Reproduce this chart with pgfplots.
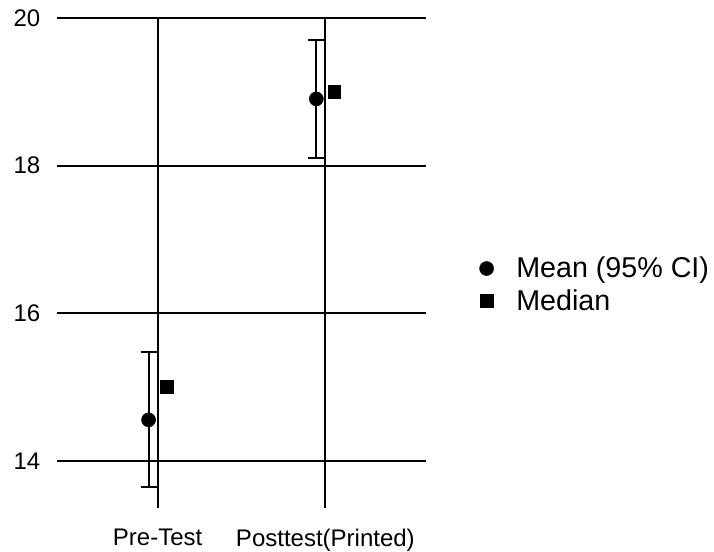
\documentclass[border=0pt]{standalone}
\usepackage{fontspec}
\setmainfont{Liberation Sans}
\usepackage{pgfplots}
\pgfplotsset{compat=1.18}
\begin{document}
\begin{tikzpicture}
\useasboundingbox (-42.75pt,-32.25pt) rectangle (492.75pt,381pt);
\begin{axis}[
  at={(0,0)}, anchor=south west,
  scale only axis, width=276.75pt, height=367.5pt,
  xmin=-0.6, xmax=1.6, ymin=13.36, ymax=20,
  xtick={0,1}, xticklabels={Pre-Test, Posttest(Printed)},
  ytick={14,16,18,20},
  /pgf/number format/assume math mode=true,
  grid=major, major grid style={black, line width=1.6pt},
  axis line style={draw=none}, major tick length=0pt,
  tick label style={font=\fontsize{18}{21}\selectfont},
  xticklabel style={yshift=-12pt},
  yticklabel style={xshift=-9pt},
  clip=false,
  legend style={draw=none, fill=none, at={(1,0.456)}, anchor=west, xshift=37pt,
    font=\fontsize{21.5}{25}\selectfont, row sep=3pt,
    /tikz/every odd column/.append style={column sep=15pt}},
  legend cell align=left,
]
\addplot[only marks, mark=*, mark size=5.25pt, color=black,
  mark options={fill=black, draw=black},
  error bars/.cd, y dir=both, y explicit,
  error bar style={line width=1.6pt, black},
  error mark options={rotate=90, mark size=6pt, line width=1.6pt, black}]
  coordinates {
    (-0.054,14.555) += (0,0.92) -= (0,0.907)
    (0.946,18.904) += (0,0.80) -= (0,0.80)
  };
\addlegendentry{Mean (95\% CI)}
\addplot[only marks, mark=square*, mark size=4.75pt, color=black,
  mark options={fill=black, draw=black}]
  coordinates {(0.054,15.0) (1.054,19.0)};
\addlegendentry{Median}
\end{axis}
\end{tikzpicture}
\end{document}
